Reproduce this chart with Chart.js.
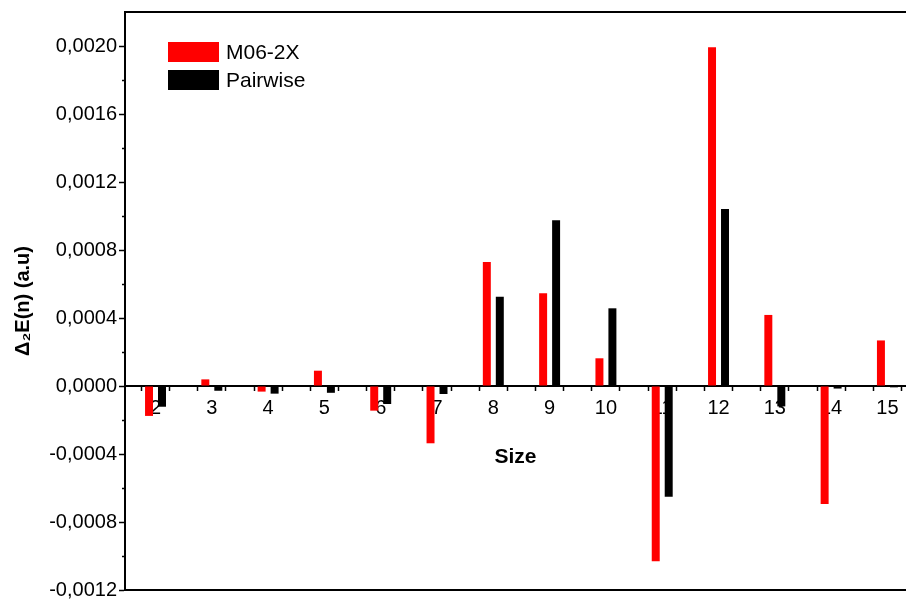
<!DOCTYPE html>
<html>
<head>
<meta charset="utf-8">
<script src="https://cdn.jsdelivr.net/npm/chart.js@4.4.1/dist/chart.umd.min.js"></script>
<style>
  html, body { margin: 0; padding: 0; background: #fff; overflow: hidden; }
  #wrap { width: 906px; height: 599px; }
</style>
</head>
<body>
<div id="wrap"><canvas id="deltaChart" width="906" height="599"></canvas></div>
<script>
// cluster sizes and second-difference energies (a.u.)
const sizes = [2, 3, 4, 5, 6, 7, 8, 9, 10, 11, 12, 13, 14, 15];
const m06 = [-0.000176, 0.000039, -0.000033, 0.00009, -0.000145, -0.000337, 0.000729,
    0.000545, 0.000163, -0.001031, 0.001992, 0.000418, -0.000694, 0.000268];
const pairwise = [-0.000122, -0.000028, -0.000045, -0.00004, -0.000106, -0.000047, 0.000525,
    0.000975, 0.000457, -0.000651, 0.001041, -0.00012, -0.000015, -0.000008];
const seriesNames = ['M06-2X', 'Pairwise'];
const seriesColors = ['#ff0000', '#000000'];

// axis ranges and tick positions
const yMin = -0.0012, yMax = 0.0022;
const yTicks = [-0.0012, -0.0008, -0.0004, 0, 0.0004, 0.0008, 0.0012, 0.0016, 0.0020];
const yMinorTicks = [-0.0010, -0.0006, -0.0002, 0.0002, 0.0006, 0.0010, 0.0014, 0.0018];
const xMin = 1.458, xMax = 15.33;
const xMinorTicks = [2.5, 3.5, 4.5, 5.5, 6.5, 7.5, 8.5, 9.5, 10.5, 11.5, 12.5, 13.5, 14.5];

const FONT = "'Liberation Sans', Arial, sans-serif";

function fmtY(v) {
    if (Math.abs(v) < 1e-10) v = 0;
    return v.toFixed(4).replace('.', ',');
}

// Origin-style frame lines (top and bottom) + legend inside plot
const framePlugin = {
    id: 'frame',
    afterDraw(chart) {
        const { ctx, chartArea } = chart;
        ctx.save();
        ctx.strokeStyle = '#000';
        ctx.lineWidth = 2;
        ctx.beginPath();
        ctx.moveTo(chartArea.left, chartArea.top);
        ctx.lineTo(chartArea.right, chartArea.top);
        ctx.moveTo(chartArea.left, chartArea.bottom);
        ctx.lineTo(chartArea.right, chartArea.bottom);
        ctx.stroke();

        // legend
        ctx.font = '21px ' + FONT;
        ctx.textBaseline = 'middle';
        ctx.textAlign = 'left';
        seriesNames.forEach((name, i) => {
            const x = chartArea.left + 43;
            const y = chartArea.top + 30 + i * 28;
            ctx.fillStyle = seriesColors[i];
            ctx.fillRect(x, y, 51, 20);
            ctx.fillStyle = '#000';
            ctx.fillText(name, x + 58, y + 11);
        });
        ctx.restore();
    }
};

const ctx = document.getElementById('deltaChart').getContext('2d');
new Chart(ctx, {
    type: 'bar',
    data: {
        datasets: [
            {
                label: seriesNames[0],
                data: sizes.map((s, i) => ({ x: s, y: m06[i] })),
                backgroundColor: seriesColors[0],
                categoryPercentage: 0.922,
                barPercentage: 0.615
            },
            {
                label: seriesNames[1],
                data: sizes.map((s, i) => ({ x: s, y: pairwise[i] })),
                backgroundColor: seriesColors[1],
                categoryPercentage: 0.922,
                barPercentage: 0.615
            }
        ]
    },
    options: {
        responsive: false,
        animation: false,
        layout: { padding: { top: 12, right: 0, bottom: 9, left: 0 } },
        plugins: {
            legend: { display: false },
            tooltip: { enabled: false }
        },
        scales: {
            x: {
                type: 'linear',
                position: { y: 0 },
                min: xMin,
                max: xMax,
                offset: false,
                afterBuildTicks: scale => {
                    scale.ticks = sizes.concat(xMinorTicks).sort((a, b) => a - b).map(v => ({ value: v }));
                },
                grid: { drawOnChartArea: false, drawTicks: true, tickLength: 4, tickWidth: 1.5, tickColor: '#000' },
                border: { display: true, color: '#000', width: 2 },
                ticks: {
                    autoSkip: false,
                    maxRotation: 0,
                    padding: 6,
                    color: '#000',
                    font: { family: FONT, size: 20 },
                    callback: v => sizes.includes(v) ? String(v) : ''
                },
                title: {
                    display: true,
                    text: 'Size',
                    color: '#000',
                    font: { family: FONT, size: 21, weight: 'bold' },
                    padding: { top: 19, bottom: 0 }
                }
            },
            y: {
                min: yMin,
                max: yMax,
                weight: 1,
                afterBuildTicks: scale => {
                    scale.ticks = yTicks.map(v => ({ value: v }));
                },
                grid: { drawOnChartArea: false, drawTicks: true, tickLength: 6, tickWidth: 1.5, tickColor: '#000' },
                border: { display: true, color: '#000', width: 2 },
                ticks: {
                    padding: 2,
                    color: '#000',
                    font: { family: FONT, size: 20 },
                    callback: v => fmtY(v)
                },
                title: {
                    display: true,
                    text: 'Δ₂E(n) (a.u)',
                    color: '#000',
                    font: { family: FONT, size: 20, weight: 'bold' },
                    padding: { top: 11, bottom: 0 }
                },
                afterFit: scale => {
                    scale.width = 125;
                    // let the end labels hang over the frame like the original
                    scale.paddingTop = 0;
                    scale.paddingBottom = 0;
                }
            },
            yMinor: {
                position: 'left',
                min: yMin,
                max: yMax,
                weight: 0,
                afterBuildTicks: scale => {
                    scale.ticks = yMinorTicks.map(v => ({ value: v }));
                },
                grid: { drawOnChartArea: false, drawTicks: true, tickLength: 3, tickWidth: 1.5, tickColor: '#000' },
                border: { display: false },
                ticks: { display: false },
                afterFit: scale => { scale.width = 0; }
            }
        }
    },
    plugins: [framePlugin]
});
</script>
</body>
</html>
